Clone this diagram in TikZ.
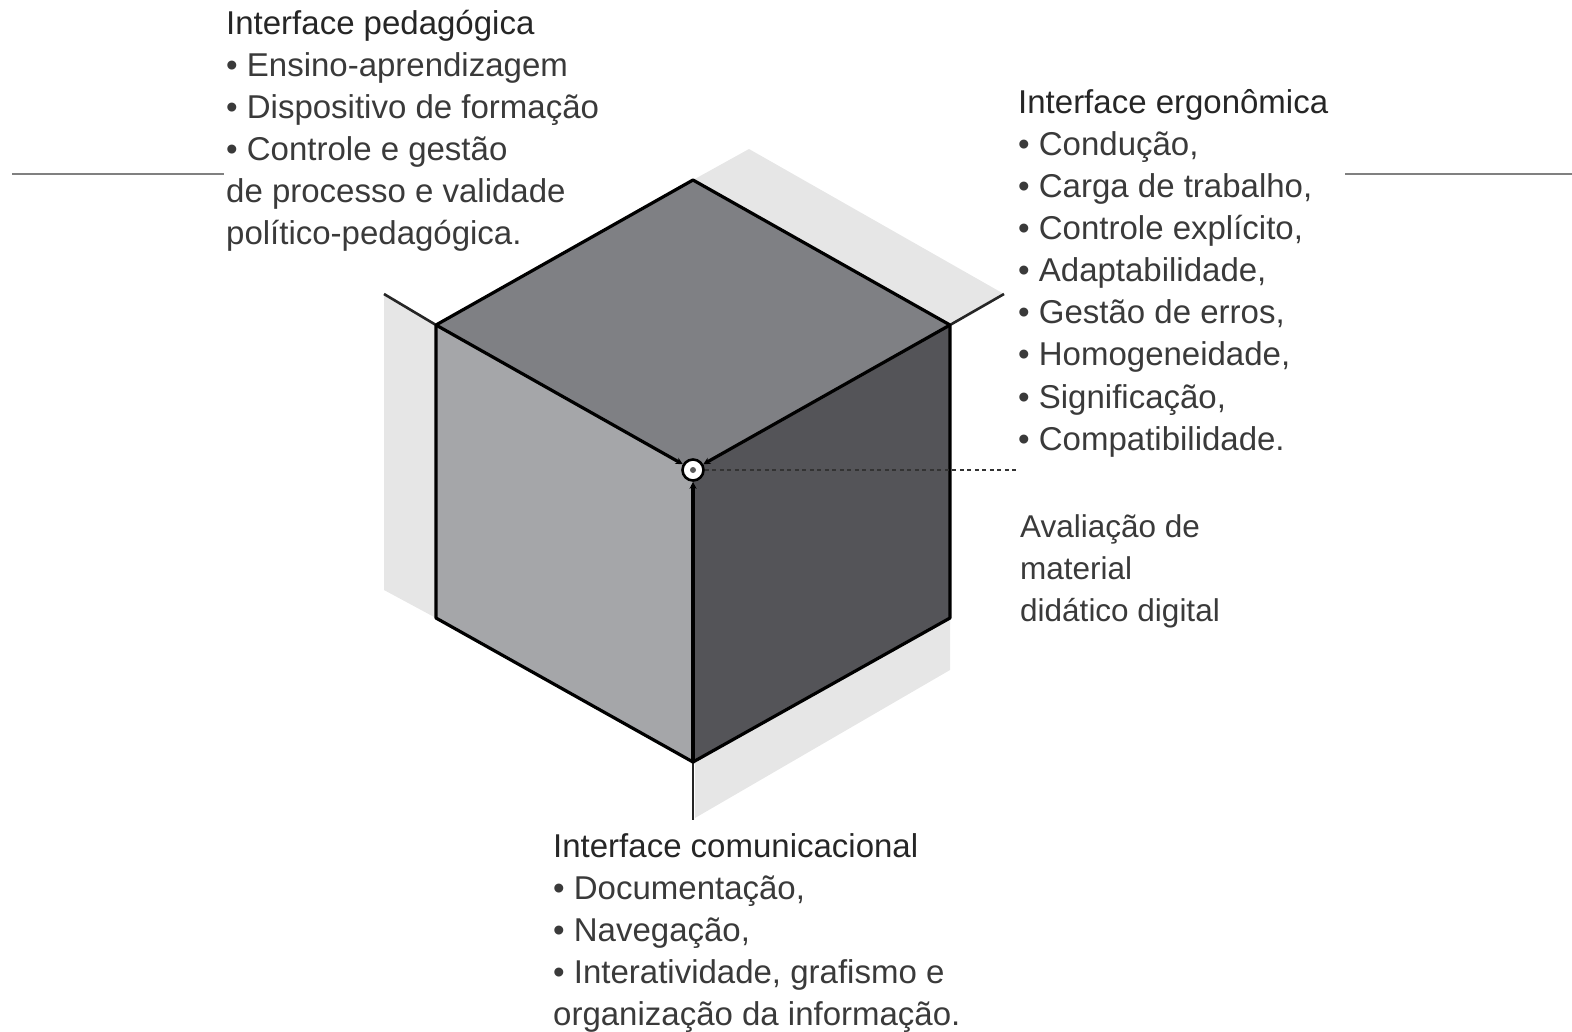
\documentclass[tikz,border=0pt]{standalone}
\usepackage{fontspec}
\setmainfont{Liberation Sans}
\usetikzlibrary{arrows.meta}
\definecolor{shadowgray}{HTML}{E6E6E6}
\definecolor{topface}{HTML}{7F8084}
\definecolor{leftface}{HTML}{A5A6A9}
\definecolor{rightface}{HTML}{545458}
\definecolor{txt}{HTML}{3A3A3A}
\definecolor{rulegray}{HTML}{808080}
\begin{document}
\begin{tikzpicture}[x=1pt,y=-1pt,
  txtline/.style={anchor=base west, inner sep=0pt, text=txt, font=\fontsize{33}{42}\selectfont},
  headline/.style={txtline, text=black!85},
  smallline/.style={anchor=base west, inner sep=0pt, text=txt, font=\fontsize{31.5}{42}\selectfont},
  cubeedge/.style={line width=3.2pt, line join=round, line cap=round},
  extline/.style={line width=2.6pt, black!85},
  sideline/.style={line width=2pt, rulegray},
  shadowband/.style={fill=shadowgray, draw=none}]
\useasboundingbox (0,0) rectangle (1572,1032);
% cube vertices
\coordinate (T) at (693,180);
\coordinate (L) at (436,325);
\coordinate (R) at (950,325);
\coordinate (C) at (693,470);
\coordinate (BL) at (436,618);
\coordinate (BR) at (950,618);
\coordinate (B) at (693,762);
% extension end points
\coordinate (eL) at (384,294);
\coordinate (eR) at (1004,294);
\coordinate (eB) at (693,820);
% shadows
\fill[shadowgray] (T) -- (749,149) -- (eR) -- (R) -- cycle;
\fill[shadowgray] (eL) -- (L) -- (BL) -- (384,590) -- cycle;
\fill[shadowgray] (695,762) -- (BR) -- (950,670) -- (695,818) -- cycle;
% faces
\fill[topface] (T) -- (R) -- (C) -- (L) -- cycle;
\fill[leftface] (L) -- (C) -- (B) -- (BL) -- cycle;
\fill[rightface] (C) -- (R) -- (BR) -- (B) -- cycle;
% outline
\draw[cubeedge] (L) -- (T) -- (R) -- (BR) -- (B) -- (BL) -- cycle;
% extension lines
\draw[extline] (L) -- (eL);
\draw[extline] (R) -- (eR);
\draw[extline] (B) -- (eB);
% center marker
\node[circle, draw=black, line width=2.6pt, fill=white, minimum size=21pt, inner sep=0pt] (ctr) at (C) {};
\fill[gray!70!black] (C) circle (3pt);
\draw[cubeedge, -{Stealth[length=7pt,width=7pt]}] (L) -- (ctr);
\draw[cubeedge, -{Stealth[length=7pt,width=7pt]}] (R) -- (ctr);
\draw[cubeedge, -{Stealth[length=7pt,width=7pt]}] (B) -- (ctr);
\coordinate (dotend) at (1017,470);
\draw[line width=2.4pt, black!80, dash pattern=on 4pt off 3.5pt] (ctr.east) -- (dotend);
% side rules
\coordinate (hl1) at (12,174);
\coordinate (hl2) at (224,174);
\coordinate (hr1) at (1345,174);
\coordinate (hr2) at (1572,174);
\draw[sideline] (hl1) -- (hl2);
\draw[sideline] (hr1) -- (hr2);
% left block
\node[headline] (p0) at (226,35) {Interface pedagógica};
\node[txtline] (p1) at (226,77) {• Ensino-aprendizagem};
\node[txtline] (p2) at (226,119) {• Dispositivo de formação};
\node[txtline] (p3) at (226,161) {• Controle e gestão};
\node[txtline] (p4) at (226,203) {de processo e validade};
\node[txtline] (p5) at (226,245) {político-pedagógica.};
% right block
\node[headline] (e0) at (1018,114) {Interface ergonômica};
\node[txtline] (e1) at (1018,156) {• Condução,};
\node[txtline] (e2) at (1018,198) {• Carga de trabalho,};
\node[txtline] (e3) at (1018,240) {• Controle explícito,};
\node[txtline] (e4) at (1018,282) {• Adaptabilidade,};
\node[txtline] (e5) at (1018,324) {• Gestão de erros,};
\node[txtline] (e6) at (1018,366) {• Homogeneidade,};
\node[txtline] (e7) at (1018,408) {• Significação,};
\node[txtline] (e8) at (1018,450) {• Compatibilidade.};
% evaluation label
\node[smallline] (a0) at (1020,537) {Avaliação de};
\node[smallline] (a1) at (1020,579) {material};
\node[smallline] (a2) at (1020,621) {didático digital};
% bottom block
\node[headline] (c0) at (553,857) {Interface comunicacional};
\node[txtline] (c1) at (553,899) {• Documentação,};
\node[txtline] (c2) at (553,941) {• Navegação,};
\node[txtline] (c3) at (553,983) {• Interatividade, grafismo e};
\node[txtline] (c4) at (553,1025) {organização da informação.};
\end{tikzpicture}
\end{document}
